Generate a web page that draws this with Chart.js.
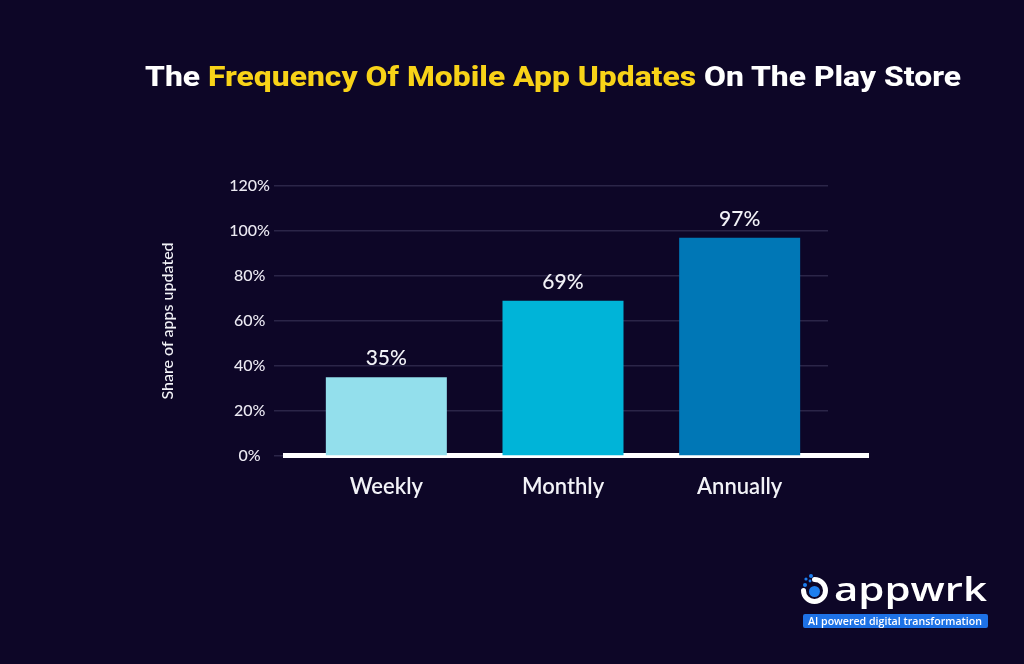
<!DOCTYPE html>
<html>
<head>
<meta charset="utf-8">
<script src="https://cdn.jsdelivr.net/npm/chart.js@4.4.1/dist/chart.umd.min.js"></script>
<style>
    html, body { margin: 0; padding: 0; background: #0d0627; }
    #wrap { position: relative; width: 1024px; height: 664px; overflow: hidden; background: #0d0627; }
    #salesChart { position: absolute; left: 0; top: 0; }
    .overlay { position: absolute; left: 0; top: 0; }
</style>
</head>
<body>
<div id="wrap">
    <canvas id="salesChart" width="1024" height="664"></canvas>
    <!-- heading, two colours -->
    <svg class="overlay" width="1024" height="120">
        <text x="145" y="86" textLength="816" lengthAdjust="spacingAndGlyphs"
              font-family="Roboto, 'Liberation Sans', sans-serif" font-weight="800" font-size="28"><tspan fill="#ffffff">The </tspan><tspan fill="#f8d318">Frequency Of Mobile App Updates</tspan><tspan fill="#ffffff"> On The Play Store</tspan></text>
    </svg>
    <!-- brand mark bottom right -->
    <svg class="overlay" width="1024" height="664">
        <path d="M 814.5 579.5 A 11 11 0 1 1 803.5 590.5" fill="none" stroke="#ffffff" stroke-width="5" stroke-linecap="round"/>
        <circle cx="814.5" cy="591.5" r="5.5" fill="#1d7ff0"/>
        <circle cx="805" cy="585" r="2" fill="#1d7ff0"/>
        <circle cx="806" cy="579" r="1.6" fill="#1d7ff0"/>
        <circle cx="811" cy="576" r="2" fill="#1d7ff0"/>
        <circle cx="810" cy="581" r="1.4" fill="#1d7ff0"/>
        <text x="834" y="601" textLength="153" lengthAdjust="spacingAndGlyphs"
              font-family="'Open Sans', sans-serif" font-weight="600" font-size="32" fill="#ffffff">appwrk</text>
        <rect x="803" y="614" width="185" height="14" rx="2" fill="#1e72e6"/>
        <text x="808" y="625" textLength="174" lengthAdjust="spacingAndGlyphs"
              font-family="'Open Sans', sans-serif" font-weight="600" font-size="11" fill="#ffffff">AI powered digital transformation</text>
    </svg>
</div>
<script>
// Chart data
const categories = ['Weekly', 'Monthly', 'Annually'];
const shareUpdated = [35, 69, 97];
const barColors = ['#93dfec', '#00b4d8', '#0077b6'];
const yMax = 120;
const yStep = 20;

// White baseline under the bars
const baselinePlugin = {
    id: 'baseline',
    beforeDatasetsDraw(chart) {
        const { ctx, chartArea, scales } = chart;
        const y0 = scales.y.getPixelForValue(0);
        ctx.save();
        ctx.fillStyle = '#ffffff';
        ctx.fillRect(chartArea.left - 15, y0 - 3, chartArea.right - chartArea.left + 56, 5);
        ctx.restore();
    }
};

// Value labels above each bar
const valueLabels = {
    id: 'valueLabels',
    afterDatasetsDraw(chart) {
        const { ctx } = chart;
        const meta = chart.getDatasetMeta(0);
        ctx.save();
        ctx.fillStyle = '#f2f2f7';
        ctx.font = '500 21px Lato, sans-serif';
        ctx.textAlign = 'center';
        ctx.textBaseline = 'middle';
        meta.data.forEach((bar, i) => {
            ctx.fillText(shareUpdated[i] + '%', bar.x, bar.y - 19);
        });
        ctx.restore();
    }
};

const ctx = document.getElementById('salesChart').getContext('2d');

const updatesChart = new Chart(ctx, {
    type: 'bar',
    data: {
        labels: categories,
        datasets: [{
            label: 'Share of apps updated',
            data: shareUpdated,
            backgroundColor: barColors,
            borderWidth: 0,
            categoryPercentage: 1,
            barPercentage: 0.685
        }]
    },
    options: {
        responsive: false,
        animation: false,
        layout: {
            padding: { left: 150, right: 196, top: 186, bottom: 148 }
        },
        plugins: {
            legend: { display: false },
            tooltip: { enabled: false }
        },
        scales: {
            x: {
                grid: { display: false, drawTicks: false },
                border: { display: false },
                ticks: {
                    color: '#f2f2f7',
                    font: { family: 'Lato', size: 22, weight: '600' },
                    padding: 18
                },
                afterFit(scale) { scale.height = 60; }
            },
            y: {
                min: 0,
                max: yMax,
                grid: {
                    color: '#2b2548',
                    lineWidth: 1.5,
                    drawTicks: true,
                    tickLength: 24
                },
                border: { display: false },
                ticks: {
                    stepSize: yStep,
                    color: '#ebe9f2',
                    font: { family: 'Lato', size: 16, weight: '500' },
                    padding: 4,
                    crossAlign: 'center',
                    callback: value => value + '%'
                },
                title: {
                    display: true,
                    text: 'Share of apps updated',
                    color: '#f2f2f7',
                    font: { family: 'Lato', size: 16, weight: '500' },
                    padding: { top: 8, bottom: 0 }
                },
                afterFit(scale) { scale.width = 148; }
            }
        }
    },
    plugins: [baselinePlugin, valueLabels]
});
</script>
</body>
</html>
